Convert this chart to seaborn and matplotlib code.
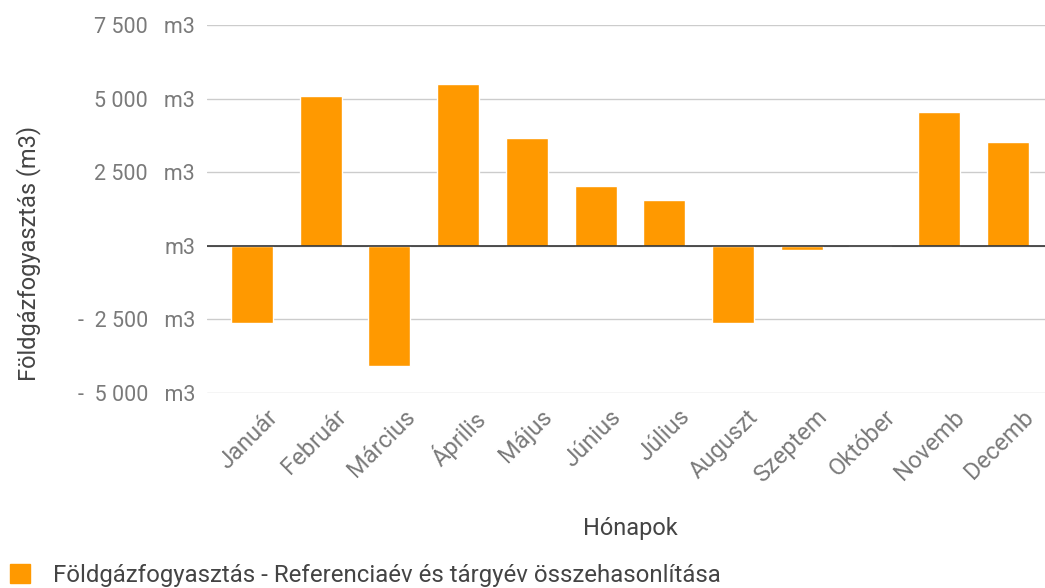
import pandas as pd
import seaborn as sns
import matplotlib.pyplot as plt
from matplotlib.patches import Patch
from matplotlib.ticker import FixedLocator, FuncFormatter
from matplotlib.transforms import ScaledTranslation

months = ["Január", "Február", "Március", "Április", "Május", "Június",
          "Július", "Auguszt", "Szeptem", "Október", "Novemb", "Decemb"]
difference = [-2620, 5090, -4090, 5500, 3660, 2040,
              1560, -2620, -160, 40, 4540, 3530]
y_ticks = [-5000, -2500, 0, 2500, 5000, 7500]

series_name = "Földgázfogyasztás - Referenciaév és tárgyév összehasonlítása"
bar_color = "#ff9900"
text_color = "#444444"
tick_color = "#7a7a7a"

sns.set_theme(style = "white")
plt.rcParams["font.family"] = ["Roboto", "DejaVu Sans"]

data: pd.DataFrame = pd.DataFrame({"month": months, "value": difference})

fig = plt.figure(figsize = (10.45, 5.88), dpi = 100)
ax = fig.add_axes([0.198, 0.332, 0.802, 0.625])

sns.barplot(data = data, x = "month", y = "value", color = bar_color,
            saturation = 1, width = 0.61, ax = ax, zorder = 3)

def fmt_m3(value, pos):

    if value == 0:

        return "m3"

    text = f"{abs(value):,.0f}".replace(",", " ")

    return ("-  " if value < 0 else "") + text + "   m3"

ax.set_ylim(-5000, 7500)
ax.yaxis.set_major_locator(FixedLocator(y_ticks))
ax.yaxis.set_major_formatter(FuncFormatter(fmt_m3))
ax.set_xlim(-0.655, len(months) - 0.46)

ax.grid(axis = "y", color = "#cccccc", linewidth = 1, zorder = 0)
ax.axhline(0, color = "#333333", linewidth = 1.2, zorder = 4)
for side in ["top", "right", "bottom", "left"]:
    ax.spines[side].set_visible(False)

ax.tick_params(axis = "y", labelsize = 15.5, labelcolor = tick_color, pad = 8.5, length = 0)
ax.tick_params(axis = "x", labelsize = 17, labelcolor = tick_color, pad = 9, length = 0)
shift = ScaledTranslation(10 / 72, 0, fig.dpi_scale_trans)
for label in ax.get_xticklabels():
    label.set_rotation(45)
    label.set_ha("right")
    label.set_rotation_mode("anchor")
    label.set_transform(label.get_transform() + shift)

ax.set_xlabel("Hónapok", fontsize = 17, color = text_color)
ax.xaxis.label.set_va("center")
ax.xaxis.set_label_coords(0.505, -0.37)
ax.set_ylabel("Földgázfogyasztás (m3)", fontsize = 17, color = text_color)
ax.yaxis.label.set_va("center")
ax.yaxis.set_label_coords(-0.213, 0.38)

handles = [Patch(facecolor = bar_color, edgecolor = bar_color)]
fig.legend(handles, [series_name], loc = "center left", bbox_to_anchor = (0.0096, 0.022),
           frameon = False, fontsize = 17.3, handlelength = 0.85, handleheight = 0.85,
           handletextpad = 0.93, borderpad = 0, borderaxespad = 0, labelcolor = text_color)

plt.savefig("out.png", dpi = 100)
